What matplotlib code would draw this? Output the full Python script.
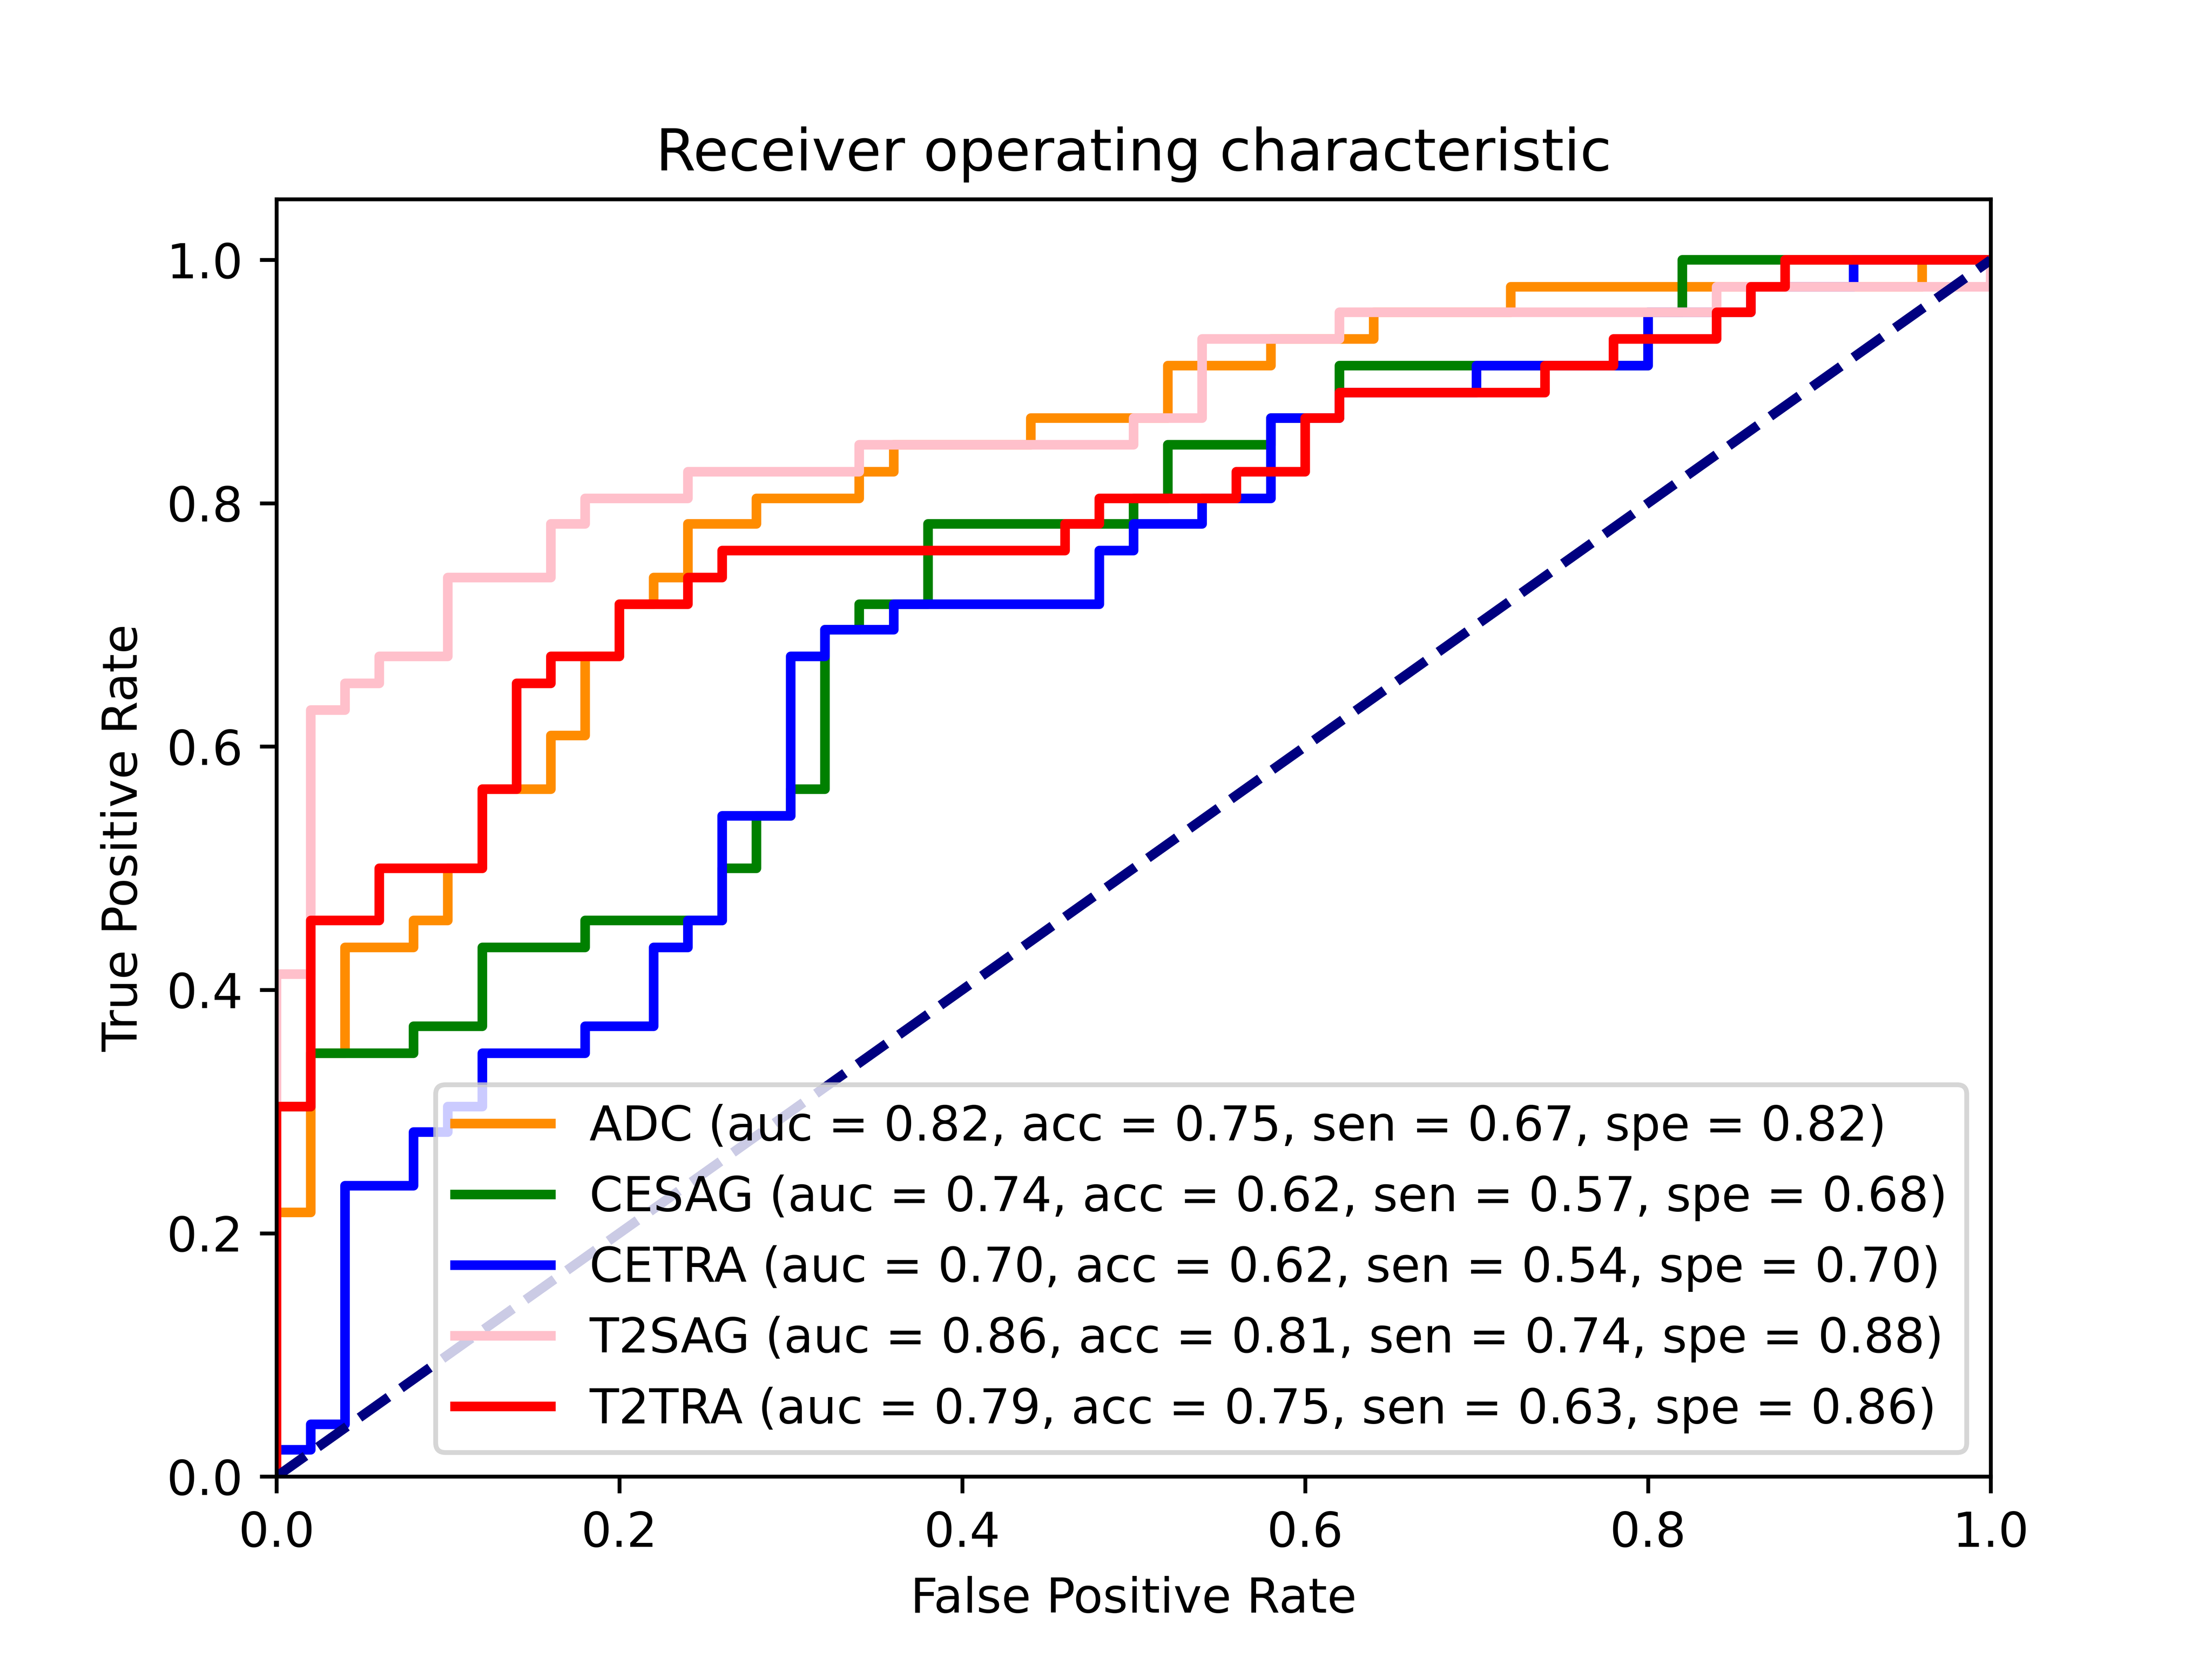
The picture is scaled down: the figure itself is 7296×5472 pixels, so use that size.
import matplotlib
matplotlib.use("Agg")
import matplotlib.pyplot as plt

# ---- data ----
adc_fpr = [0, 0, 0.02, 0.02, 0.04, 0.04, 0.08, 0.08, 0.10, 0.10, 0.12, 0.12, 0.16, 0.16, 0.18, 0.18,
           0.20, 0.20, 0.22, 0.22, 0.24, 0.24, 0.28, 0.28, 0.34, 0.34, 0.36, 0.36, 0.44, 0.44, 0.52, 0.52,
           0.58, 0.58, 0.64, 0.64, 0.72, 0.72, 0.96, 0.96, 1.0]
adc_tpr = [0, 0.217, 0.217, 0.348, 0.348, 0.435, 0.435, 0.457, 0.457, 0.500, 0.500, 0.565, 0.565, 0.609,
           0.609, 0.674, 0.674, 0.717, 0.717, 0.739, 0.739, 0.783, 0.783, 0.804, 0.804, 0.826, 0.826, 0.848,
           0.848, 0.870, 0.870, 0.913, 0.913, 0.935, 0.935, 0.957, 0.957, 0.978, 0.978, 1.0, 1.0]

cesag_fpr = [0, 0, 0.02, 0.02, 0.08, 0.08, 0.12, 0.12, 0.18, 0.18, 0.26, 0.26, 0.28, 0.28, 0.30, 0.30,
             0.32, 0.32, 0.34, 0.34, 0.38, 0.38, 0.50, 0.50, 0.52, 0.52, 0.58, 0.58, 0.62, 0.62, 0.80, 0.80,
             0.82, 0.82, 1.0]
cesag_tpr = [0, 0.304, 0.304, 0.348, 0.348, 0.370, 0.370, 0.435, 0.435, 0.457, 0.457, 0.500, 0.500, 0.543,
             0.543, 0.565, 0.565, 0.696, 0.696, 0.717, 0.717, 0.783, 0.783, 0.804, 0.804, 0.848, 0.848, 0.870,
             0.870, 0.913, 0.913, 0.957, 0.957, 1.0, 1.0]

cetra_fpr = [0, 0, 0.02, 0.02, 0.04, 0.04, 0.08, 0.08, 0.10, 0.10, 0.12, 0.12, 0.18, 0.18, 0.22, 0.22,
             0.24, 0.24, 0.26, 0.26, 0.30, 0.30, 0.32, 0.32, 0.36, 0.36, 0.48, 0.48, 0.50, 0.50, 0.54, 0.54,
             0.58, 0.58, 0.62, 0.62, 0.70, 0.70, 0.80, 0.80, 0.86, 0.86, 0.92, 0.92, 1.0]
cetra_tpr = [0, 0.022, 0.022, 0.043, 0.043, 0.239, 0.239, 0.283, 0.283, 0.304, 0.304, 0.348, 0.348, 0.370,
             0.370, 0.435, 0.435, 0.457, 0.457, 0.543, 0.543, 0.674, 0.674, 0.696, 0.696, 0.717, 0.717, 0.761,
             0.761, 0.783, 0.783, 0.804, 0.804, 0.870, 0.870, 0.891, 0.891, 0.913, 0.913, 0.957, 0.957, 0.978,
             0.978, 1.0, 1.0]

t2sag_fpr = [0, 0, 0.02, 0.02, 0.04, 0.04, 0.06, 0.06, 0.10, 0.10, 0.16, 0.16, 0.18, 0.18, 0.24, 0.24,
             0.34, 0.34, 0.50, 0.50, 0.54, 0.54, 0.62, 0.62, 0.84, 0.84, 1.0, 1.0]
t2sag_tpr = [0, 0.413, 0.413, 0.630, 0.630, 0.652, 0.652, 0.674, 0.674, 0.739, 0.739, 0.783, 0.783, 0.804,
             0.804, 0.826, 0.826, 0.848, 0.848, 0.870, 0.870, 0.935, 0.935, 0.957, 0.957, 0.978, 0.978, 1.0]

t2tra_fpr = [0, 0, 0.02, 0.02, 0.06, 0.06, 0.12, 0.12, 0.14, 0.14, 0.16, 0.16, 0.20, 0.20, 0.24, 0.24,
             0.26, 0.26, 0.46, 0.46, 0.48, 0.48, 0.56, 0.56, 0.60, 0.60, 0.62, 0.62, 0.74, 0.74, 0.78, 0.78,
             0.84, 0.84, 0.86, 0.86, 0.88, 0.88, 1.0]
t2tra_tpr = [0, 0.304, 0.304, 0.457, 0.457, 0.500, 0.500, 0.565, 0.565, 0.652, 0.652, 0.674, 0.674, 0.717,
             0.717, 0.739, 0.739, 0.761, 0.761, 0.783, 0.783, 0.804, 0.804, 0.826, 0.826, 0.870, 0.870, 0.891,
             0.891, 0.913, 0.913, 0.935, 0.935, 0.957, 0.957, 0.978, 0.978, 1.0, 1.0]

names = ["ADC", "CESAG", "CETRA", "T2SAG", "T2TRA"]
auc = [0.82, 0.74, 0.70, 0.86, 0.79]
acc = [0.75, 0.62, 0.62, 0.81, 0.75]
sen = [0.67, 0.57, 0.54, 0.74, 0.63]
spe = [0.82, 0.68, 0.70, 0.88, 0.86]
colors = ["darkorange", "green", "blue", "pink", "red"]

curves = [(adc_fpr, adc_tpr), (cesag_fpr, cesag_tpr), (cetra_fpr, cetra_tpr),
          (t2sag_fpr, t2sag_tpr), (t2tra_fpr, t2tra_tpr)]

DPI = 1140
fig = plt.figure(figsize=(6.4, 4.8), dpi=DPI)
ax = fig.add_subplot(111)
for (f, t), n, a, c_, s, p, col in zip(curves, names, auc, acc, sen, spe, colors):
    ax.plot(f, t, color=col, lw=2,
            label="%s (auc = %.2f, acc = %.2f, sen = %.2f, spe = %.2f)" % (n, a, c_, s, p))
ax.plot([0, 1], [0, 1], color="navy", lw=2, linestyle="--")
ax.set_xlim([0.0, 1.0])
ax.set_ylim([0.0, 1.05])
ax.set_xlabel("False Positive Rate")
ax.set_ylabel("True Positive Rate")
ax.set_title("Receiver operating characteristic")
ax.legend(loc="lower right")
fig.savefig("out.png", dpi=DPI)
